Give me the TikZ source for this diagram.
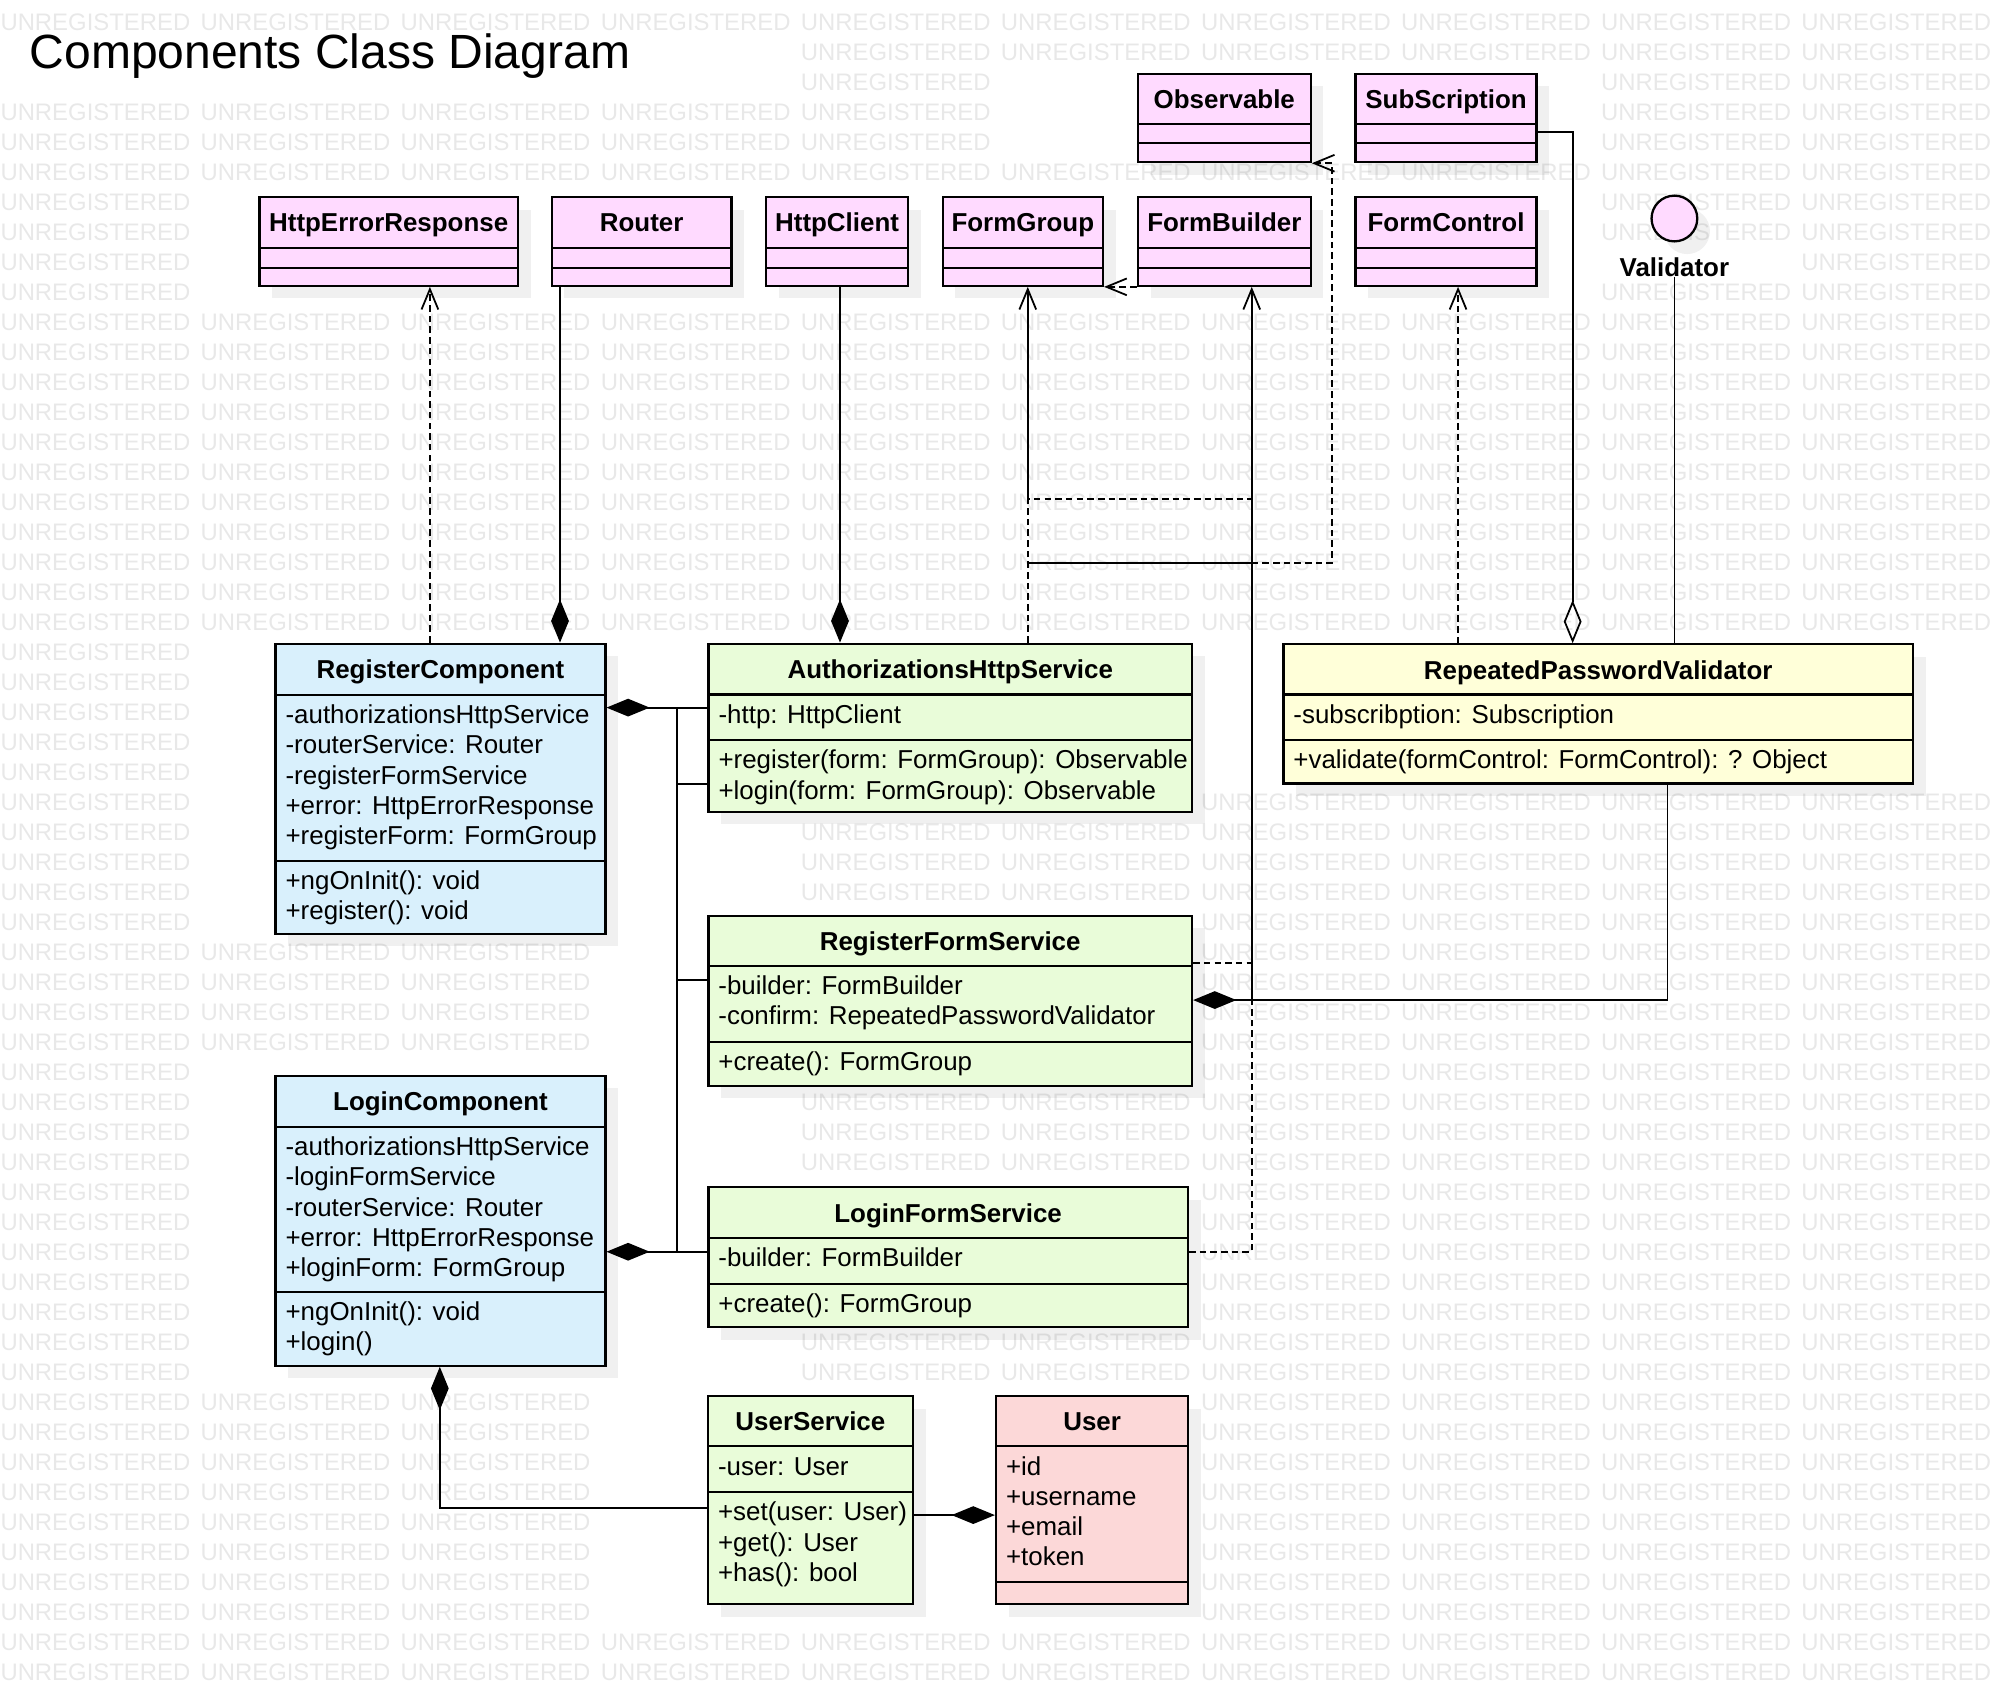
\documentclass[tikz,border=0pt]{standalone}
\usepackage{fontspec}
\setmainfont{Liberation Sans}
\usetikzlibrary{arrows.meta,fit}
\definecolor{clspink}{RGB}{255,218,255}
\definecolor{clsblue}{RGB}{217,240,252}
\definecolor{clsgreen}{RGB}{233,252,217}
\definecolor{clsyellow}{RGB}{255,255,217}
\definecolor{clsred}{RGB}{252,216,216}
\tikzset{
  umlclass/.style={draw, line width=0.9pt, inner sep=0pt},
  cshadow/.style={fill=black, opacity=0.06},
  csep/.style={line width=0.9pt},
  cname/.style={font=\fontsize{10.2}{12}\selectfont\bfseries, inner sep=0pt, text height=7.3pt, text depth=0pt},
  cmember/.style={anchor=west, inner sep=0pt, text height=7.3pt, text depth=0pt},
  wmark/.style={anchor=west, inner sep=0pt, text=black!9, font=\fontsize{9.4}{10}\selectfont, text height=6.7pt, text depth=0pt},
  link/.style={line width=0.7pt},
  dline/.style={link, dash pattern=on 2.6pt off 1.6pt},
  dep/.style={dline, -{Straight Barb[length=8pt,width=6.6pt]}},
  nav/.style={link, -{Straight Barb[length=8pt,width=6.6pt]}},
  comp/.style={link, {Diamond[length=17pt,width=7pt]}-},
  aggr/.style={link, {Diamond[open,length=17pt,width=7pt]}-}
}
\newcommand\umlbox[8]{%
  \fill[cshadow] (#3+10,#4+10) rectangle (#5+10,#6+10);
  \node[umlclass, fill=#2, fit={(#3,#4) (#5,#6)}] (#1) {};
  \foreach \sy in {#7} \draw[csep] (#3,\sy) -- (#5,\sy);
  \node[cname] (#1-name) at ({(#3+#5)/2},{#4+20}) {#8};}
\newcommand\umlmembers[4]{%
  \foreach \m [count=\i] in {#4}
    \node[cmember] (#1\i) at (#2+7.5,#3+15.5+23.7*\i-23.7) {\m};}
% areas covered by the boxes and labels
\def\covered{22/25/497/61, 1275/200/1362/220,
  895.7/58/1031.7/127.6, 1067/58/1209.5/127.6,
  204.3/155.3/407.6/224.9, 434.3/155.3/575.8/224.9, 603/155.3/714.8/224.9,
  742/155.3/868.2/224.9, 895.7/155.3/1031.7/224.9, 1067/155.3/1209.5/224.9,
  216.9/506.7/476.5/735, 557.7/506.7/938.3/639, 1010.2/507.2/1505.8/616.7,
  557.6/720.8/938.3/854.6, 216.9/846.8/476.5/1075, 557.6/934.6/935/1044.8,
  557.3/1099/718.5/1262.6, 784/1099/935.4/1262.6}

\begin{document}
\begin{tikzpicture}[x=0.5pt, y=-0.5pt, font=\fontsize{10.2}{12}\selectfont]
\useasboundingbox (0,0) rectangle (1568,1325.6);
\foreach \row in {0,...,55}
  \foreach \col in {0,...,9} {
    \pgfmathsetmacro\wx{157.5*\col}
    \pgfmathsetmacro\wy{17+23.62*\row}
    \gdef\wshow{1}
    \foreach \xa/\ya/\xb/\yb in \covered {
      \pgfmathtruncatemacro\hit{(\wx<\xb)*(\wx+149>\xa)*(\wy-7<\yb)*(\wy+7>\ya)}
      \ifnum\hit=1 \gdef\wshow{0}\fi}
    \ifnum\wshow=1 \node[wmark] (wm-\row-\col) at (\wx,\wy) {UNREGISTERED};\fi}
\node[anchor=west, inner sep=0pt, font=\fontsize{18.9}{20}\selectfont, text height=13.5pt, text depth=0pt] (title) at (23,40.5) {Components Class Diagram};

\umlbox{obs}{clspink}{895.7}{58}{1031.7}{127.6}{97.6,112.8}{Observable}
\umlbox{subs}{clspink}{1067}{58}{1209.5}{127.6}{97.6,112.8}{SubScription}
\umlbox{her}{clspink}{204.3}{155.3}{407.6}{224.9}{195,210.9}{HttpErrorResponse}
\umlbox{router}{clspink}{434.3}{155.3}{575.8}{224.9}{195,210.9}{Router}
\umlbox{hclient}{clspink}{603}{155.3}{714.8}{224.9}{195,210.9}{HttpClient}
\umlbox{fgroup}{clspink}{742}{155.3}{868.2}{224.9}{195,210.9}{FormGroup}
\umlbox{fbuilder}{clspink}{895.7}{155.3}{1031.7}{224.9}{195,210.9}{FormBuilder}
\umlbox{fcontrol}{clspink}{1067}{155.3}{1209.5}{224.9}{195,210.9}{FormControl}
\fill[cshadow] (1328,182) circle (9pt);
\node[umlclass, circle, fill=clspink, minimum size=18pt] (vld) at (1318,172) {};
\node[cname] (vld-name) at (1318,210) {Validator};

\umlbox{rc}{clsblue}{216.9}{506.7}{476.5}{735}{547,677.5}{RegisterComponent}
\umlmembers{rc-a}{216.9}{547}{-authorizationsHttpService, -routerService: Router, -registerFormService, +error: HttpErrorResponse, +registerForm: FormGroup}
\umlmembers{rc-m}{216.9}{677.5}{+ngOnInit(): void, +register(): void}
\umlbox{auth}{clsgreen}{557.7}{506.7}{938.3}{639}{546.7,582.5}{AuthorizationsHttpService}
\umlmembers{auth-a}{557.7}{546.7}{-http: HttpClient}
\umlmembers{auth-m}{557.7}{582.5}{+register(form: FormGroup): Observable, +login(form: FormGroup): Observable}
\umlbox{rpv}{clsyellow}{1010.2}{507.2}{1505.8}{616.7}{546.7,582.5}{RepeatedPasswordValidator}
\umlmembers{rpv-a}{1010.2}{546.7}{-subscribption: Subscription}
\umlmembers{rpv-m}{1010.2}{582.5}{+validate(formControl: FormControl): ? Object}
\umlbox{rfs}{clsgreen}{557.6}{720.8}{938.3}{854.6}{760.2,820}{RegisterFormService}
\umlmembers{rfs-a}{557.6}{760.2}{-builder: FormBuilder, -confirm: RepeatedPasswordValidator}
\umlmembers{rfs-m}{557.6}{820}{+create(): FormGroup}
\umlbox{lc}{clsblue}{216.9}{846.8}{476.5}{1075}{887,1016.8}{LoginComponent}
\umlmembers{lc-a}{216.9}{887}{-authorizationsHttpService, -loginFormService, -routerService: Router, +error: HttpErrorResponse, +loginForm: FormGroup}
\umlmembers{lc-m}{216.9}{1016.8}{+ngOnInit(): void, +login()}
\umlbox{lfs}{clsgreen}{557.6}{934.6}{935}{1044.8}{974.3,1010.5}{LoginFormService}
\umlmembers{lfs-a}{557.6}{974.3}{-builder: FormBuilder}
\umlmembers{lfs-m}{557.6}{1010.5}{+create(): FormGroup}
\umlbox{us}{clsgreen}{557.3}{1099}{718.5}{1262.6}{1138.3,1174.4}{UserService}
\umlmembers{us-a}{557.3}{1138.3}{-user: User}
\umlmembers{us-m}{557.3}{1174.4}{+set(user: User), +get(): User, +has(): bool}
\umlbox{user}{clsred}{784}{1099}{935.4}{1262.6}{1138.3,1245}{User}
\umlmembers{user-a}{784}{1138.3}{+id, +username, +email, +token}

\coordinate (ka) at (809,393);
\coordinate (kb) at (985.3,393);
\coordinate (kc) at (809,443);
\coordinate (kd) at (985.3,443);
\coordinate (ke) at (1048.5,443);
\coordinate (kf) at (985.3,787.2);
\coordinate (kg) at (1312.6,787.2);
\coordinate (kh) at (985.3,758.3);
\coordinate (ki) at (985.3,985.3);
\coordinate (kj) at (532.7,557);
\coordinate (kk) at (532.7,985.3);
\coordinate (kl) at (346.2,1186.8);
\coordinate (km) at (1237.9,103.7);

\draw[dep] (rc.north -| 338.4,0) -- (her.south -| 338.4,0);
\draw[comp] (rc.north -| 440.8,0) -- (router.south -| 440.8,0);
\draw[comp] (auth.north -| 661.2,0) -- (hclient.south -| 661.2,0);
\draw[dline] (auth.north -| ka) -- (ka) -- (kb);
\draw[nav] (ka) -- (fgroup.south -| ka);
\draw[link] (kc) -- (kd);
\draw[dep] (kd) -- (ke) |- (obs.south east);
\draw[dep] (fbuilder.south west) -- (fgroup.south east);
\draw[nav] (kf) -- (fbuilder.south -| kf);
\draw[comp] (rfs.east |- kg) -- (kg) -- (rpv.south -| kg);
\draw[dline] (rfs.east |- kh) -- (kh);
\draw[dline] (lfs.east |- ki) -- (ki) -- (kf);
\draw[dep] (rpv.north -| 1147.7,0) -- (fcontrol.south -| 1147.7,0);
\draw[aggr] (rpv.north -| km) -- (km) -- (subs.east |- km);
\draw[link] (vld-name.south) -- (rpv.north -| vld-name);
\draw[comp] (rc.east |- kj) -- (auth.west |- kj);
\draw[link] (kj) -- (kk);
\draw[link] (kj |- 0,617) -- (auth.west |- 0,617);
\draw[link] (kj |- 0,771.4) -- (rfs.west |- 0,771.4);
\draw[comp] (lc.east |- kk) -- (lfs.west |- kk);
\draw[comp] (lc.south -| kl) -- (kl) -- (us.west |- kl);
\draw[comp] (user.west |- 0,1192.6) -- (us.east |- 0,1192.6);
\end{tikzpicture}
\end{document}
